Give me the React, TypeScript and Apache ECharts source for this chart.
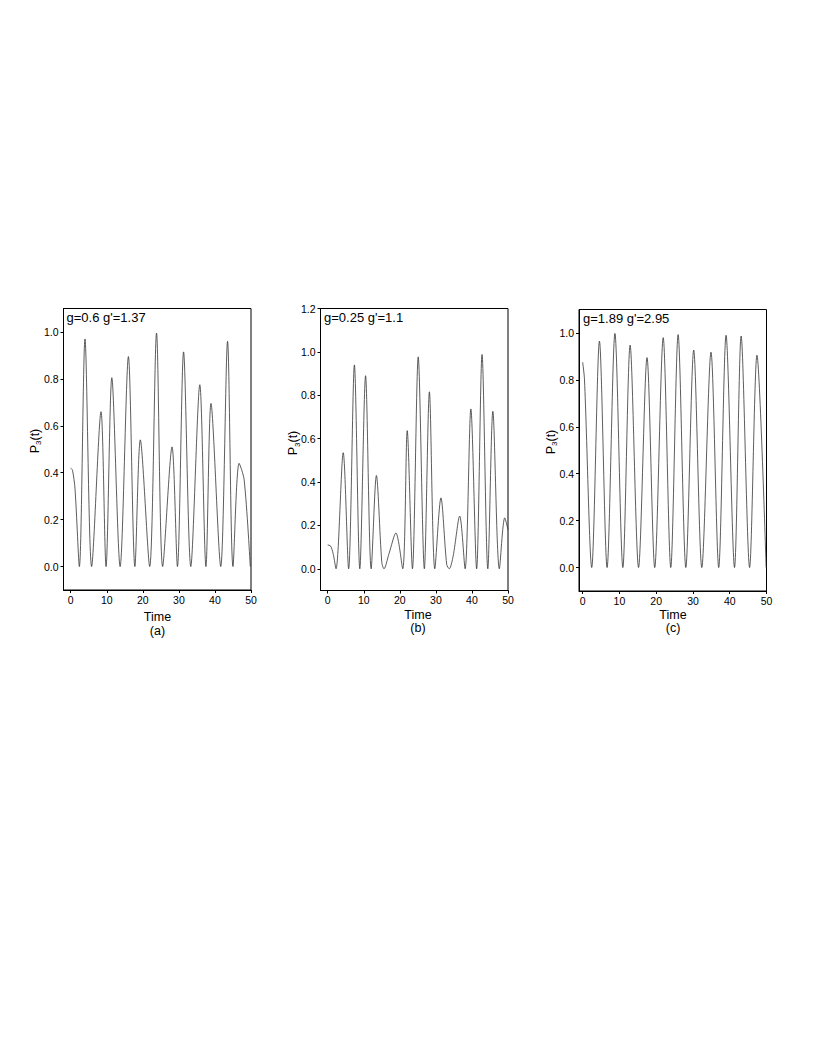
import React, { useEffect, useRef } from 'react';
import * as echarts from 'echarts';

const X_TICKS = [0, 10, 20, 30, 40, 50];
const Y_TICKS_AC = [0, 0.2, 0.4, 0.6, 0.8, 1.0];
const Y_TICKS_B = [0, 0.2, 0.4, 0.6, 0.8, 1.0, 1.2];

const PARAM_TEXT = ["g=0.6 g'=1.37", "g=0.25 g'=1.1", "g=1.89 g'=2.95"];
const PANEL_TAGS = ['(a)', '(b)', '(c)'];
const X_NAME = 'Time';

// P3(t)
const seriesA: [number, number][] = [
  [0, 0.42], [0.5, 0.41], [1.2, 0.33], [2.4, 0], [3.96, 0.97], [5.8, 0], [8.4, 0.66], [9.8, 0],
  [11.4, 0.805], [13.7, 0], [16.0, 0.895], [17.8, 0], [19.3, 0.54], [21.9, 0], [23.8, 0.995],
  [25.5, 0], [28.1, 0.51], [29.6, 0], [31.3, 0.915], [33.3, 0], [35.8, 0.775], [37.5, 0],
  [38.9, 0.695], [41.6, 0], [43.5, 0.96], [45.0, 0], [46.7, 0.44], [48.1, 0.37], [49.8, 0],
];

// P3(t)
const seriesB: [number, number][] = [
  [0, 0.11], [0.8, 0.105], [1.5, 0.07], [2.3, 0], [4.3, 0.535], [5.8, 0], [7.4, 0.94], [8.9, 0],
  [10.5, 0.89], [12.05, 0], [13.5, 0.43], [15.0, 0.03], [15.6, 0], [17.0, 0.07], [18.9, 0.165],
  [20.8, 0], [22.05, 0.637], [23.5, 0], [25.1, 0.977], [26.8, 0], [28.2, 0.816], [29.7, 0],
  [31.4, 0.327], [33.0, 0.02], [33.7, 0], [34.8, 0.06], [36.6, 0.243], [38.1, 0], [39.7, 0.737],
  [41.3, 0], [42.8, 0.988], [44.4, 0], [45.8, 0.726], [47.6, 0], [49.1, 0.235], [50, 0.18],
];

// P3(t)
const seriesC: [number, number][] = [
  [0, 0.875], [0.5, 0.8], [2.46, 0], [4.56, 0.965], [6.64, 0], [8.77, 0.998], [10.93, 0],
  [12.9, 0.948], [15.2, 0], [17.5, 0.895], [19.6, 0], [21.9, 0.98], [23.96, 0], [25.96, 0.993],
  [28.06, 0], [30.2, 0.927], [32.4, 0], [34.9, 0.918], [37.0, 0], [39.0, 0.99], [41.3, 0],
  [43.1, 0.987], [45.4, 0], [47.4, 0.905], [49.9, 0],
];

const FONT = "'Liberation Sans', Arial, Helvetica, sans-serif";

const GRIDS = [
  { left: 63.5, top: 308.5, width: 187.5, height: 281.5 },
  { left: 320.5, top: 308.5, width: 187.5, height: 282 },
  { left: 579, top: 309.5, width: 187.5, height: 281.5 },
];
const X_MINS = [-2, -2, -1];
const Y_MAXS = [1.1, 1.2, 1.1];
const Y_TICK_SETS = [Y_TICKS_AC, Y_TICKS_B, Y_TICKS_AC];
const DATA = [seriesA, seriesB, seriesC];
const NAME_POS = [
  { time: [157.5, 617], tag: [157.5, 631], ylab: [34.5, 441], param: [66.5, 311] },
  { time: [418, 615], tag: [418, 628], ylab: [293, 443], param: [324, 311] },
  { time: [673, 615], tag: [673, 628], ylab: [550.5, 442], param: [583, 312] },
];

export default function App() {
  const ref = useRef<HTMLDivElement>(null);
  useEffect(() => {
    document.body.style.margin = '0';
    if (!ref.current) return;
    const chart = echarts.init(ref.current, null, { renderer: 'svg' });
    const grid = GRIDS.map((g) => ({
      ...g,
      show: true,
      borderColor: '#000',
      borderWidth: 1,
      backgroundColor: 'transparent',
    }));
    const xAxis = GRIDS.map((_, i) => ({
      type: 'value',
      gridIndex: i,
      min: X_MINS[i],
      max: 50,
      axisLine: { show: true, onZero: false, lineStyle: { color: '#000', width: 1 } },
      axisTick: { show: true, inside: false, length: 3, customValues: X_TICKS, lineStyle: { color: '#000', width: 1 } },
      axisLabel: { customValues: X_TICKS, color: '#000', fontSize: 10.5, fontFamily: FONT, margin: 4 },
      splitLine: { show: false },
    }));
    const yAxis = GRIDS.map((_, i) => ({
      type: 'value',
      gridIndex: i,
      min: -0.1,
      max: Y_MAXS[i],
      axisLine: { show: true, onZero: false, lineStyle: { color: '#000', width: 1 } },
      axisTick: { show: true, inside: false, length: 3, customValues: Y_TICK_SETS[i], lineStyle: { color: '#000', width: 1 } },
      axisLabel: {
        customValues: Y_TICK_SETS[i],
        color: '#000',
        fontSize: 10.5,
        fontFamily: FONT,
        margin: 5,
        formatter: (v: number) => v.toFixed(1),
      },
      splitLine: { show: false },
    }));
    const series = DATA.map((d, i) => ({
      type: 'line',
      xAxisIndex: i,
      yAxisIndex: i,
      data: d,
      smooth: 0.3,
      symbol: 'none',
      lineStyle: { color: '#333', width: 0.8 },
      clip: true,
    }));
    const graphic: any[] = [];
    NAME_POS.forEach((p, i) => {
      graphic.push({
        type: 'text', x: p.time[0], y: p.time[1],
        style: { text: X_NAME, fontSize: 12.5, fontFamily: FONT, fill: '#000', align: 'center', verticalAlign: 'middle' },
      });
      graphic.push({
        type: 'text', x: p.tag[0], y: p.tag[1],
        style: { text: PANEL_TAGS[i], fontSize: 12.5, fontFamily: FONT, fill: '#000', align: 'center', verticalAlign: 'middle' },
      });
      graphic.push({
        type: 'text', x: p.param[0], y: p.param[1],
        style: { text: PARAM_TEXT[i], fontSize: 13, fontFamily: FONT, fill: '#000', align: 'left', verticalAlign: 'top' },
      });
      graphic.push({
        type: 'text', x: p.ylab[0], y: p.ylab[1], rotation: Math.PI / 2,
        style: {
          text: '{a|P}{s|3}{a|(t)}',
          align: 'center',
          verticalAlign: 'middle',
          fill: '#000',
          rich: {
            a: { fontSize: 12.5, fontFamily: FONT, fill: '#000', lineHeight: 14 },
            s: { fontSize: 8, fontFamily: FONT, fill: '#000', lineHeight: 8, padding: [8, 0, 0, 0] },
          },
        },
      });
    });
    chart.setOption({
      animation: false,
      backgroundColor: '#fff',
      grid,
      xAxis,
      yAxis,
      series,
      graphic,
    });
    return () => chart.dispose();
  }, []);
  return <div ref={ref} style={{ width: 817, height: 1058 }} />;
}
